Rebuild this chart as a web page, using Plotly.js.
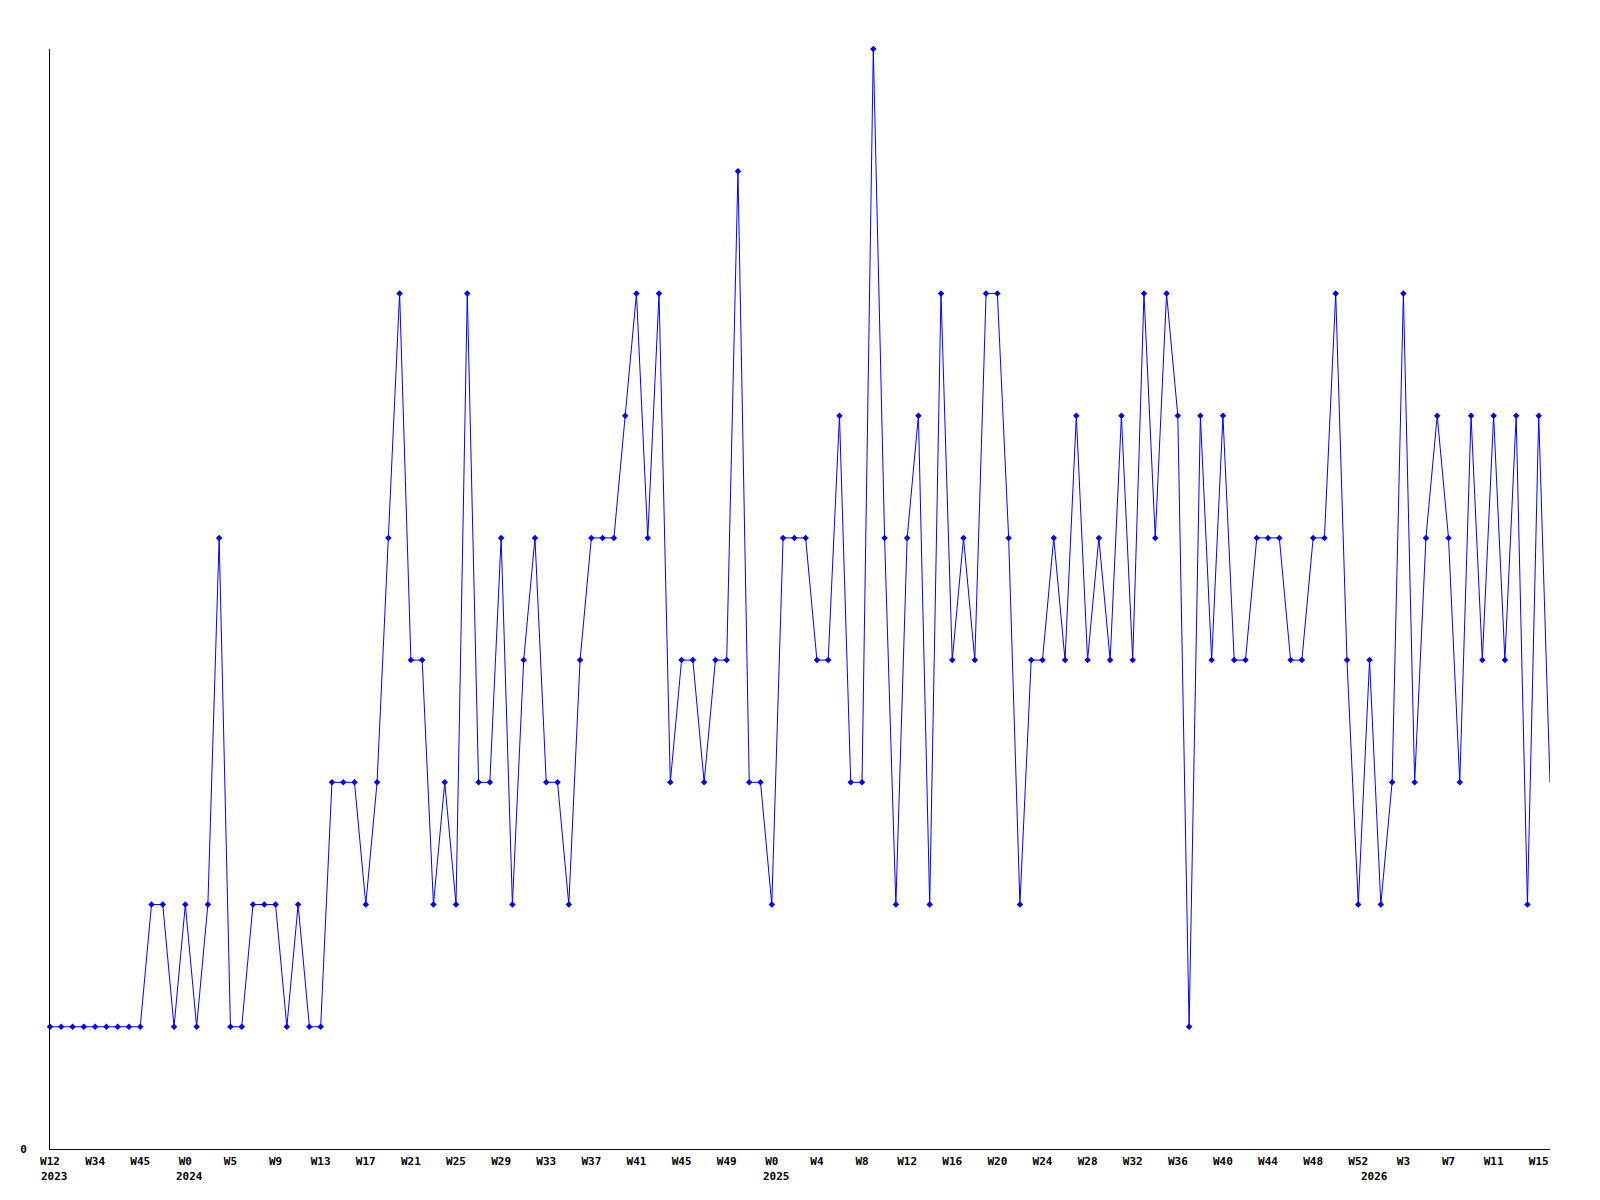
<!DOCTYPE html>
<html>
<head>
<meta charset="utf-8">
<script src="https://cdn.plot.ly/plotly-3.0.1.min.js"></script>
<style>html,body{margin:0;padding:0;background:#fff;}#chart{width:1600px;height:1200px;}</style>
</head>
<body>
<div id="chart"></div>
<script>
// Weekly values, one per point (134 points)
const values = [
  1,1,1,1,1,1,1,1,1,2,
  2,1,2,1,2,5,1,1,2,2,
  2,1,2,1,1,3,3,3,2,3,
  5,7,4,4,2,3,2,7,3,3,
  5,2,4,5,3,3,2,4,5,5,
  5,6,7,5,7,3,4,4,3,4,
  4,8,3,3,2,5,5,5,4,4,
  6,3,3,9,5,2,5,6,2,7,
  4,5,4,7,7,5,2,4,4,5,
  4,6,4,5,4,6,4,7,5,7,
  6,1,6,4,6,4,4,5,5,5,
  4,4,5,5,7,4,2,4,2,3,
  7,3,5,6,5,3,6,4,6,4,
  6,2,6,3
];
// Tick positions (point index) and their week labels
const tickIdx = [0,4,8,12,16,20,24,28,32,36,40,44,48,52,56,60,64,68,72,76,80,84,88,92,96,100,104,108,112,116,120,124,128,132];
const tickText = ['W12','W34','W45','W0','W5','W9','W13','W17','W21','W25','W29','W33','W37','W41','W45','W49','W0','W4','W8','W12','W16','W20','W24','W28','W32','W36','W40','W44','W48','W52','W3','W7','W11','W15'];
// Year labels and the point index where each year starts
const yearIdx = [0,12,64,117];
const yearText = ['2023','2024','2025','2026'];

const xs = values.map((_, i) => i);
const fontSpec = {family: '"DejaVu Sans Mono", "Liberation Mono", monospace', size: 11, color: '#000', weight: 'bold'};

// line through all points
const lineTrace = {
  x: xs, y: values, type: 'scatter', mode: 'lines',
  line: {color: '#0000ff', width: 1},
  hoverinfo: 'skip', showlegend: false, cliponaxis: false
};
// markers on every point except the last (still running) one
const markerTrace = {
  x: xs.slice(0, -1), y: values.slice(0, -1), type: 'scatter', mode: 'markers',
  marker: {color: '#0000ff', symbol: 'diamond', size: 5},
  hoverinfo: 'x+y', showlegend: false, cliponaxis: false
};

const annotations = yearIdx.map((xi, k) => ({
  x: xi, y: 0, xref: 'x', yref: 'paper', text: yearText[k],
  showarrow: false, xanchor: 'left', yanchor: 'top', xshift: -11, yshift: -19,
  font: fontSpec
}));

const layout = {
  width: 1600, height: 1200,
  margin: {l: 50, r: 50, t: 49, b: 51},
  paper_bgcolor: '#fff', plot_bgcolor: '#fff',
  font: fontSpec,
  showlegend: false,
  xaxis: {
    range: [0, 133], showgrid: false, zeroline: false,
    showline: true, linecolor: '#000', linewidth: 1,
    ticks: '', tickmode: 'array', tickvals: tickIdx, ticktext: tickText,
    tickfont: fontSpec, ticklabelstandoff: 2, fixedrange: true
  },
  yaxis: {
    range: [0, 9], showgrid: false, zeroline: false,
    showline: true, linecolor: '#000', linewidth: 1,
    ticks: '', tickmode: 'array', tickvals: [0], ticktext: ['0'],
    tickfont: fontSpec, ticklabelstandoff: 20, fixedrange: true
  },
  annotations: annotations
};

Plotly.newPlot('chart', [lineTrace, markerTrace], layout, {displayModeBar: false, staticPlot: true});
</script>
</body>
</html>
